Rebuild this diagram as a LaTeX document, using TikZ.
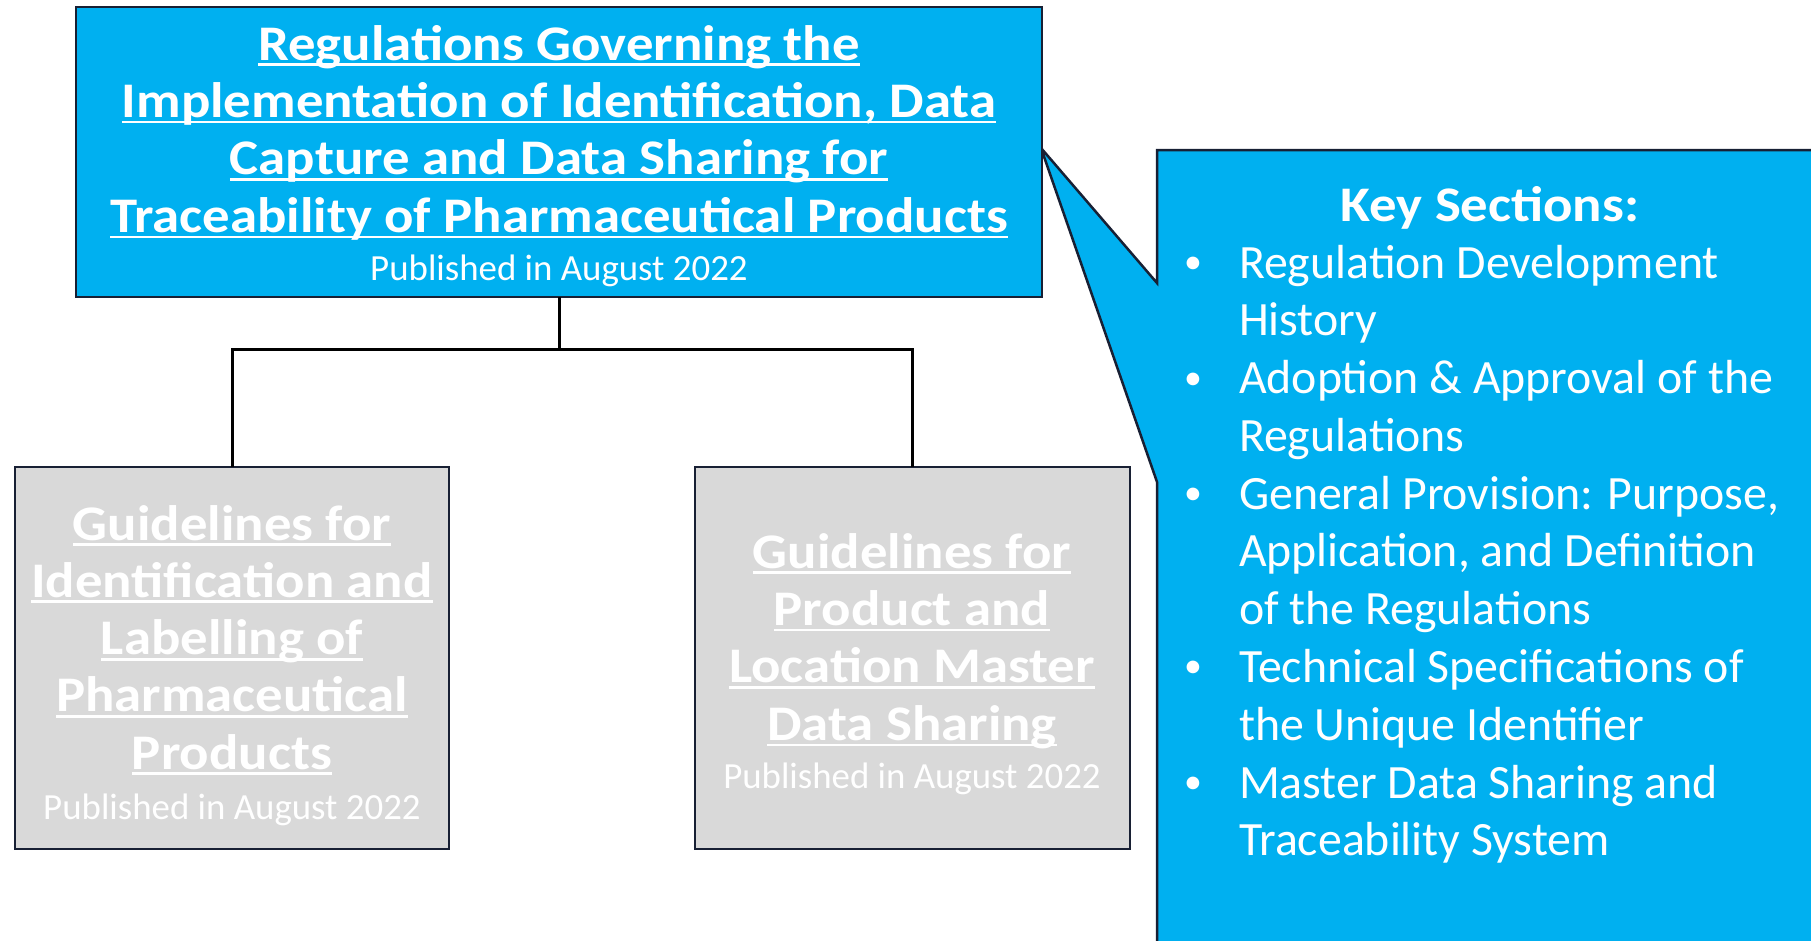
\documentclass[tikz,border=0pt]{standalone}
\usepackage{fontspec}
\setmainfont{Carlito}[BoldFeatures={FakeStretch=1.1}]
\definecolor{calblue}{RGB}{0,176,240}
\definecolor{boxgray}{RGB}{217,217,217}
\definecolor{edgecol}{RGB}{24,32,52}
\newsavebox{\myulbox}
\newcommand\myuline[1]{\sbox{\myulbox}{#1}\rlap{\rule[-6pt]{\wd\myulbox}{2.8pt}}\usebox{\myulbox}}
\newcommand\mybul{\makebox[52bp][l]{\hspace{-3bp}\raisebox{4.5bp}{\fontsize{36}{36}\selectfont\textbullet}}}
\begin{document}
\begin{tikzpicture}[x=1bp,y=-1bp,
  box/.style={draw=edgecol, line width=2.5bp, inner sep=0pt, outer sep=0pt, anchor=north west},
  txt/.style={text=white, inner sep=0pt, outer sep=0pt, anchor=base},
  conn/.style={draw=black, line width=3bp}]
\useasboundingbox (0,0) rectangle (1811,940);
% callout
\fill[calblue, draw=edgecol, line width=2.5bp] (1157,150) -- (1830,150) -- (1830,960) -- (1157,960) -- (1157,482) -- (1041,148) -- (1157,283) -- cycle;
% boxes
\node[box, fill=calblue, minimum width=966bp, minimum height=290bp] (top) at (76,7) {};
\node[box, fill=boxgray, minimum width=434bp, minimum height=382bp] (left) at (15,467) {};
\node[box, fill=boxgray, minimum width=435bp, minimum height=382bp] (right) at (695,467) {};
% connectors
\draw[conn] (top.south) -- ++(0,52) coordinate (junc) -| (left.north);
\draw[conn] (junc) -| (right.north);
% texts
\node[txt] (toptext) at (559,60) {\fontsize{50}{57.7}\selectfont\bfseries
\begin{tabular}[t]{@{}c@{}}
\myuline{Regulations Governing the}\\
\myuline{Implementation of Identification, Data}\\
\myuline{Capture and Data Sharing for}\\
\myuline{Traceability of Pharmaceutical Products}\\[-9pt]
{\fontsize{37}{40}\selectfont\mdseries Published in August 2022}
\end{tabular}};
\node[txt] (lefttext) at (232,540) {\fontsize{50}{57.5}\selectfont\bfseries
\begin{tabular}[t]{@{}c@{}}
\myuline{Guidelines for}\\
\myuline{Identification and}\\
\myuline{Labelling of}\\
\myuline{Pharmaceutical}\\
\myuline{Products}\\[-7pt]
{\fontsize{37}{40}\selectfont\mdseries Published in August 2022}
\end{tabular}};
\node[txt] (righttext) at (912,568) {\fontsize{50}{57.7}\selectfont\bfseries
\begin{tabular}[t]{@{}c@{}}
\myuline{Guidelines for}\\
\myuline{Product and}\\
\myuline{Location Master}\\
\myuline{Data Sharing}\\[-9pt]
{\fontsize{37}{40}\selectfont\mdseries Published in August 2022}
\end{tabular}};
\node[txt] (keyhead) at (1490,221) {\fontsize{50}{57.5}\selectfont\bfseries Key Sections:};
\node[txt, anchor=base west] (keylist) at (1187,278) {\fontsize{48}{58}\selectfont
\begin{tabular}[t]{@{}l@{}l@{}}
\mybul & Regulation Development\\
 & History\\
\mybul & Adoption \& Approval of the\\
 & Regulations\\
\mybul & General Provision: Purpose,\\
 & Application, and Definition\\
 & of the Regulations\\
\mybul & Technical Specifications of\\
 & the Unique Identifier\\
\mybul & Master Data Sharing and\\
 & Traceability System
\end{tabular}};
\end{tikzpicture}
\end{document}
